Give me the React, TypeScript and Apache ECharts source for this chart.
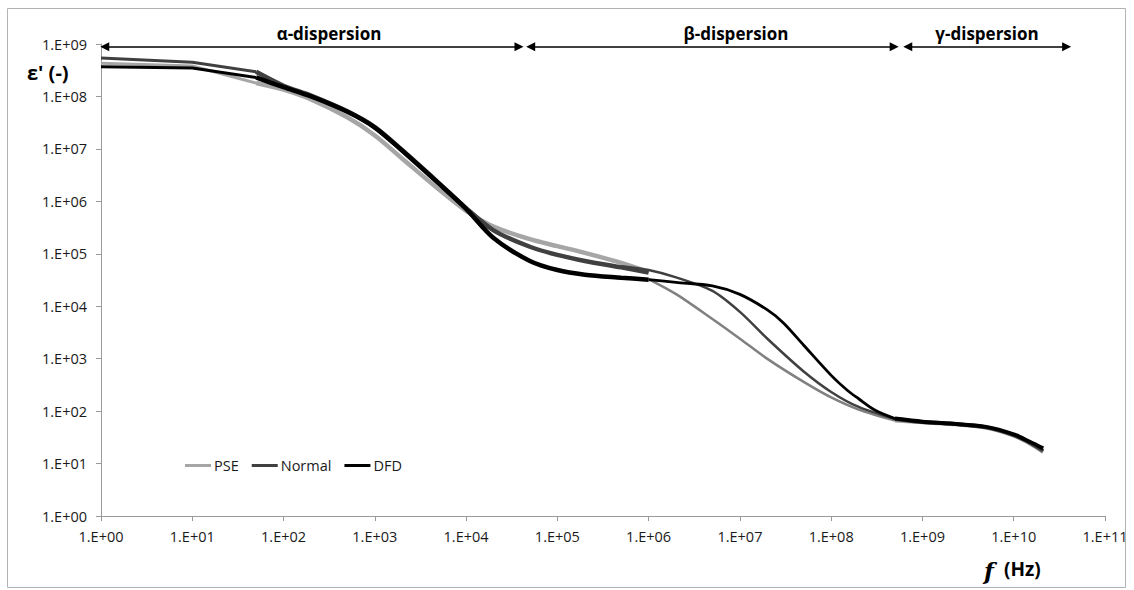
import React, { useEffect, useRef } from "react";
import * as echarts from "echarts";

// ---- data (frequency in Hz, permittivity ε') ----
// extrapolated low-frequency points
const EXT_FREQ = [1, 10, 50];
const PSE_EXT = [4.3e8, 3.8e8, 1.8e8];
const NORMAL_EXT = [5.4e8, 4.5e8, 2.95e8];
const DFD_EXT = [3.7e8, 3.5e8, 2.3e8];

// low-frequency measurement (50 Hz – 1 MHz)
const LF_FREQ = [50, 100, 200, 500, 1e3, 2e3, 5e3, 1e4, 2e4, 5e4, 1e5, 2e5, 5e5, 1e6];
const PSE_LF = [1.8e8, 1.35e8, 8.8e7, 4.0e7, 1.8e7, 6.5e6, 1.7e6, 6.6e5, 3.3e5, 1.9e5, 1.4e5, 1.04e5, 6.7e4, 4.5e4];
const NORMAL_LF = [2.95e8, 1.6e8, 1.04e8, 5.2e7, 2.6e7, 9.4e6, 2.25e6, 7.4e5, 2.8e5, 1.36e5, 9.5e4, 7.3e4, 5.5e4, 4.4e4];
const DFD_LF = [2.3e8, 1.5e8, 1.0e8, 5.1e7, 2.55e7, 9.2e6, 2.2e6, 7.2e5, 2.0e5, 7.3e4, 4.9e4, 4.0e4, 3.5e4, 3.2e4];

// high-frequency measurement (β region)
const PSE_HF_FREQ = [1e6, 2e6, 5e6, 1e7, 2e7, 5e7, 1e8, 2e8, 5e8];
const PSE_HF = [3.3e4, 1.7e4, 5.7e3, 2.4e3, 990, 360, 182, 107, 66];
const NORMAL_HF_FREQ = [5e5, 1e6, 2e6, 5e6, 1e7, 2e7, 5e7, 1e8, 2e8, 5e8];
const NORMAL_HF = [5.8e4, 4.9e4, 3.55e4, 1.96e4, 7.8e3, 2.4e3, 570, 232, 120, 71];
const DFD_HF_FREQ = [1e6, 2e6, 5e6, 1e7, 2e7, 3e7, 5e7, 1e8, 1.5e8, 2e8, 3e8, 5e8];
const DFD_HF = [3.2e4, 2.85e4, 2.44e4, 1.68e4, 8.5e3, 4.8e3, 1.8e3, 480, 250, 172, 105, 72];

// γ region measurement
const GAMMA_FREQ = [5e8, 1e9, 2e9, 5e9, 1e10, 1.5e10, 2.1e10];
const PSE_G = [66, 61, 57, 48, 34, 24, 16.5];
const NORMAL_G = [71, 62, 58, 49, 35, 25, 17.5];
const DFD_G = [72, 63, 58, 50, 36, 26, 19.5];

const X_TICKS = [1, 1e1, 1e2, 1e3, 1e4, 1e5, 1e6, 1e7, 1e8, 1e9, 1e10, 1e11];
const Y_TICKS = [1, 1e1, 1e2, 1e3, 1e4, 1e5, 1e6, 1e7, 1e8, 1e9];

const SERIES_NAMES = ["PSE", "Normal", "DFD"];
const REGION_LABELS = ["α-dispersion", "β-dispersion", "γ-dispersion"];
// arrow spans (Hz) at ε' level
const ARROW_LEVEL = 8.9e8;
const ARROW_SPANS: [number, number][] = [
  [1.1, 3.8e4],
  [5.1e4, 4.9e8],
  [6.9e8, 3.8e10],
];

const FONT = "'Open Sans', 'Noto Sans', sans-serif";

const zip = (xs: number[], ys: number[]) => xs.map((x, i) => [x, ys[i]]);
const fmt = (v: number) => {
  const e = Math.round(Math.log10(v));
  return "1.E+" + (e < 10 ? "0" + e : String(e));
};

export default function App() {
  const ref = useRef<HTMLDivElement>(null);
  useEffect(() => {
    if (!ref.current) return;
    const chart = echarts.init(ref.current, null, { renderer: "svg" });

    const line = (name: string, data: number[][], color: string, width: number, extra: any = {}) => ({
      type: "line",
      name,
      data,
      showSymbol: false,
      symbol: "none",
      smooth: 0.3,
      color,
      itemStyle: { color },
      lineStyle: { color, width },
      emphasis: { disabled: true },
      ...extra,
    });

    const axisCommon = (ticks: number[], margin: number) => ({
      type: "log",
      logBase: 10,
      axisLine: { show: true, lineStyle: { color: "#9a9a9a", width: 1 } },
      axisTick: { show: true, inside: false, length: 5, customValues: ticks, lineStyle: { color: "#9a9a9a" } },
      minorTick: { show: false },
      splitLine: { show: false },
      axisLabel: {
        formatter: fmt,
        customValues: ticks,
        margin,
        color: "#1a1a1a",
        fontSize: 14.5,
        fontFamily: FONT,
        showMinLabel: true,
        showMaxLabel: true,
      },
    });

    const [P, N, D] = SERIES_NAMES;

    chart.setOption({
      animation: false,
      backgroundColor: "#ffffff",
      grid: { left: 101, right: 29, top: 44, bottom: 74, containLabel: false },
      xAxis: { ...axisCommon(X_TICKS, 13), min: 1, max: 1e11 },
      yAxis: { ...axisCommon(Y_TICKS, 14), min: 1, max: 1e9 },
      legend: {
        data: SERIES_NAMES,
        left: 185,
        top: 458,
        itemWidth: 26,
        itemHeight: 3,
        itemGap: 13,
        icon: "rect",
        padding: 0,
        textStyle: { fontSize: 14.5, fontFamily: FONT, color: "#1a1a1a", padding: [0, 0, 0, -2] },
        selectedMode: false,
      },
      series: [
        line(P, zip(LF_FREQ, PSE_LF), "#a6a6a6", 4.5),
        line(P, zip(EXT_FREQ, PSE_EXT), "#a6a6a6", 3, { smooth: false }),
        line(P, zip(PSE_HF_FREQ, PSE_HF), "#808080", 2.5),
        line(P, zip(GAMMA_FREQ, PSE_G), "#a6a6a6", 4),
        line(N, zip(LF_FREQ, NORMAL_LF), "#404040", 4.5),
        line(N, zip(EXT_FREQ, NORMAL_EXT), "#404040", 3, { smooth: false }),
        line(N, zip(NORMAL_HF_FREQ, NORMAL_HF), "#404040", 2.5),
        line(N, zip(GAMMA_FREQ, NORMAL_G), "#404040", 4),
        line(D, zip(LF_FREQ, DFD_LF), "#000000", 4.5),
        line(D, zip(EXT_FREQ, DFD_EXT), "#000000", 3, { smooth: false }),
        line(D, zip(GAMMA_FREQ, DFD_G), "#000000", 4),
        line(D, zip(DFD_HF_FREQ, DFD_HF), "#000000", 2.8, {
          markLine: {
            silent: true,
            symbol: ["triangle", "triangle"],
            symbolSize: 9,
            label: { show: false },
            lineStyle: { color: "#000000", width: 1.5, type: "solid" },
            data: ARROW_SPANS.map(([a, b]) => [
              { coord: [a, ARROW_LEVEL] },
              { coord: [b, ARROW_LEVEL] },
            ]),
          },
        }),
      ],
      graphic: [
        {
          type: "rect",
          shape: { x: 7.5, y: 8.5, width: 1118, height: 579 },
          style: { fill: "none", stroke: "#b3b3b3", lineWidth: 1 },
          silent: true,
        },
        {
          type: "text",
          x: 27,
          y: 72,
          style: { text: "ε' (-)", font: `bold 20px ${FONT}`, fill: "#000", verticalAlign: "middle", align: "left" },
        },
        {
          type: "text",
          x: 984,
          y: 570,
          style: { text: "f", font: `italic bold 23px 'DejaVu Serif', serif`, fill: "#000", verticalAlign: "middle", align: "left" },
        },
        {
          type: "text",
          x: 1004,
          y: 569,
          style: { text: "(Hz)", font: `bold 19px ${FONT}`, fill: "#000", verticalAlign: "middle", align: "left" },
        },
        ...REGION_LABELS.map((t, i) => ({
          type: "text",
          x: [329, 736, 987][i],
          y: 33,
          style: { text: t, font: `bold 17px ${FONT}`, fill: "#000", verticalAlign: "middle", align: "center" },
        })),
      ],
    });
    return () => chart.dispose();
  }, []);
  return (
    <div
      ref={ref}
      style={{ position: "fixed", left: 0, top: 0, width: 1134, height: 590, background: "#fff" }}
    />
  );
}
